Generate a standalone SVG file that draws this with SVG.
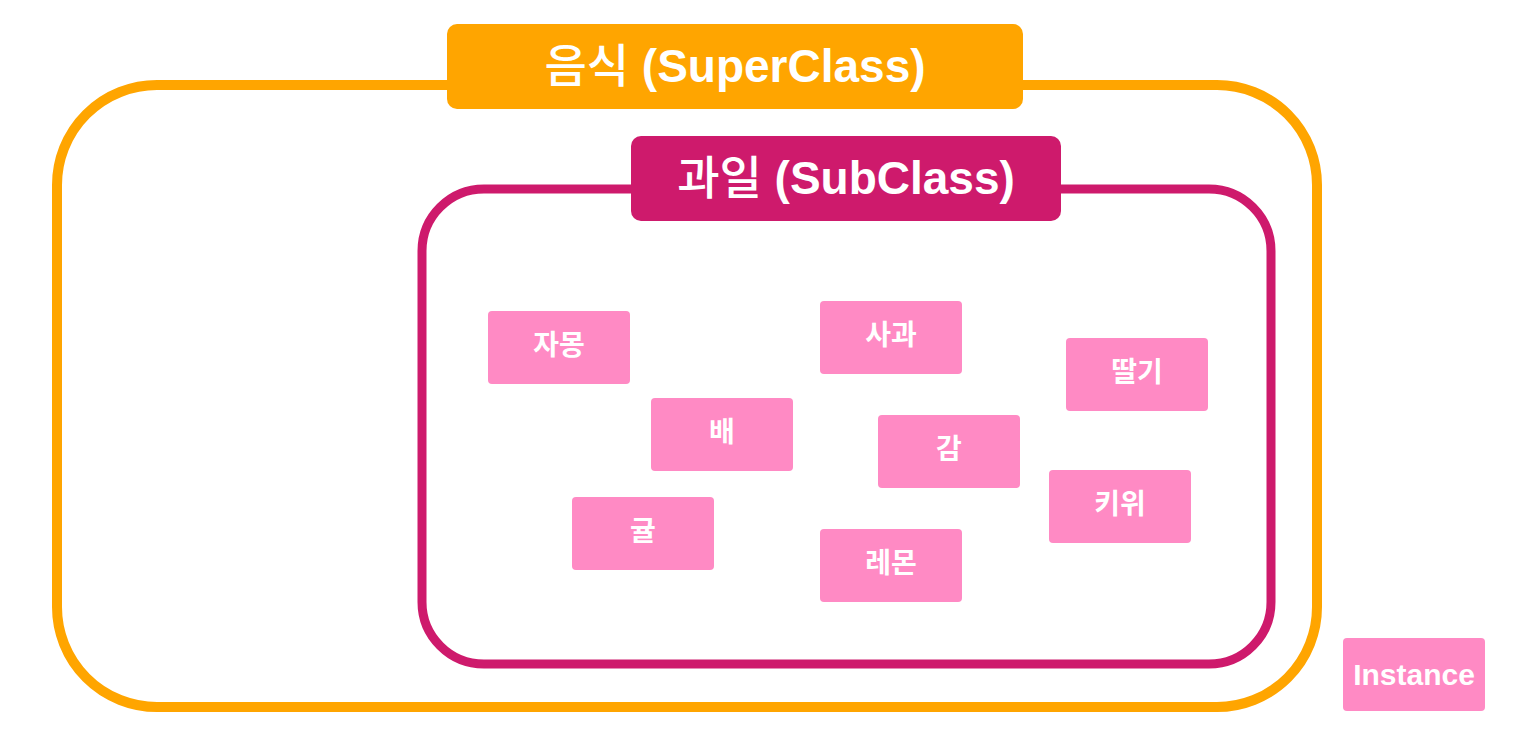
<svg xmlns="http://www.w3.org/2000/svg" width="1526" height="733" viewBox="0 0 1526 733">
<style>
.t{font-family:"Liberation Sans","Noto Sans CJK KR",sans-serif;font-weight:bold;fill:#fff;text-anchor:middle;dominant-baseline:central}
.k{font-weight:500}
.inst rect{fill:#FF8AC4}
.inst text{font-size:28px}
</style>
<rect width="1526" height="733" fill="#fff"/>
<g id="superclass">
<rect x="57" y="85" width="1260" height="622" rx="100" fill="none" stroke="#FFA500" stroke-width="10"/>
<rect x="447" y="24" width="576" height="85" rx="10" fill="#FFA500"/>
<text class="t" x="735" y="66" font-size="46"><tspan class="k">음식</tspan> (SuperClass)</text>
</g>
<g id="subclass">
<rect x="422" y="189" width="849" height="475" rx="62" fill="none" stroke="#CE1A6C" stroke-width="9"/>
<rect x="631" y="136" width="430" height="85" rx="10" fill="#CE1A6C"/>
<text class="t" x="846" y="178" font-size="46"><tspan class="k">과일</tspan> (SubClass)</text>
</g>
<g id="connectors"></g>
<g id="n-jamong" class="inst"><rect x="488" y="311" width="142" height="73" rx="4"/><text class="t" x="559" y="345">자몽</text></g>
<g id="n-sagwa" class="inst"><rect x="820" y="301" width="142" height="73" rx="4"/><text class="t" x="891" y="335">사과</text></g>
<g id="n-ddalgi" class="inst"><rect x="1066" y="338" width="142" height="73" rx="4"/><text class="t" x="1137" y="372">딸기</text></g>
<g id="n-bae" class="inst"><rect x="651" y="398" width="142" height="73" rx="4"/><text class="t" x="722" y="432">배</text></g>
<g id="n-gam" class="inst"><rect x="878" y="415" width="142" height="73" rx="4"/><text class="t" x="949" y="449">감</text></g>
<g id="n-kiwi" class="inst"><rect x="1049" y="470" width="142" height="73" rx="4"/><text class="t" x="1120" y="504">키위</text></g>
<g id="n-gyul" class="inst"><rect x="572" y="497" width="142" height="73" rx="4"/><text class="t" x="643" y="531">귤</text></g>
<g id="n-lemon" class="inst"><rect x="820" y="529" width="142" height="73" rx="4"/><text class="t" x="891" y="563">레몬</text></g>
<g id="n-instance" class="inst"><rect x="1343" y="638" width="142" height="73" rx="4"/><text class="t" x="1414" y="674" style="font-size:30px">Instance</text></g>
</svg>
